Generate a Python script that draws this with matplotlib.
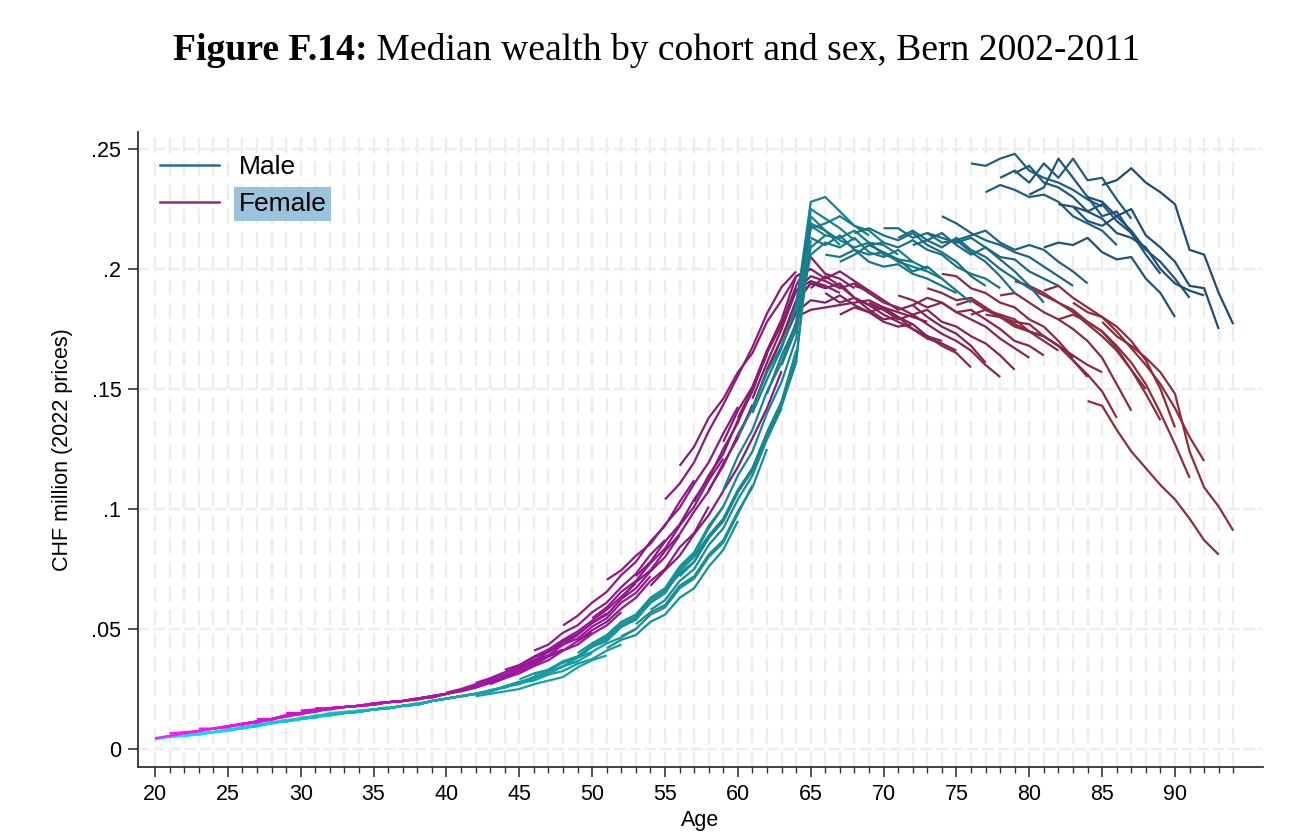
# Median wealth by cohort and sex, Bern 2002-2011
import numpy as np
import matplotlib
matplotlib.use("Agg")
import matplotlib.pyplot as plt
from matplotlib.colors import LinearSegmentedColormap
from matplotlib.lines import Line2D

plt.rcParams["font.family"] = ["Liberation Sans", "DejaVu Sans"]

# each row: one cohort, age in 2002 = start age, values for 2002..2011
# wealth in thousandths of CHF million (2022 prices)
young_start = list(range(20, 45))
mid_start = list(range(45, 65))
old_start = list(range(65, 86))

male_young = [
    [4, 5, 5.5, 6.5, 7, 8, 9, 10, 11, 12],
    [5, 5.5, 6, 7, 8, 9, 9.5, 11, 12, 12.5],
    [5.5, 6.5, 7, 8, 8.5, 9.5, 11, 12, 12.5, 13.5],
    [6, 7, 8, 8.5, 10, 11, 11.5, 12.5, 13.5, 14],
    [7, 7.5, 9, 10, 10.5, 12, 12.5, 13.5, 14.5, 15],
    [7.5, 9, 9.5, 11, 12, 12.5, 14, 14.5, 15, 16],
    [9, 9.5, 11, 11.5, 12.5, 13.5, 14, 15, 16, 16.5],
    [9.5, 11, 11.5, 13, 13.5, 15, 15.5, 16, 16.5, 17.5],
    [11, 11.5, 12.5, 13.5, 14, 15, 15.5, 16.5, 17, 18],
    [11.5, 12.5, 13, 14.5, 15, 15.5, 16.5, 17, 18, 19],
    [13, 13.5, 14.5, 15, 15.5, 16.5, 17, 18, 19, 20],
    [13.5, 14.5, 15, 15.5, 16.5, 17, 18, 18.5, 20, 21],
    [14, 15, 15.5, 16.5, 17, 18, 18.5, 20, 21, 22],
    [15, 15.5, 16.5, 17, 18, 18.5, 20, 21, 22, 23],
    [15.5, 16.5, 17, 18, 18.5, 20, 21, 22, 23, 24.5],
    [16.5, 17, 18, 18.5, 20, 21, 22, 23, 24.5, 26],
    [17, 18, 18.5, 20, 21, 22, 23, 24, 26, 28],
    [18, 18.5, 20, 21, 22, 23, 24, 26, 27.5, 30],
    [18.5, 20, 21, 22, 23, 24, 26, 27.5, 30, 31.5],
    [20, 21, 22, 23, 24, 26, 27, 29.5, 31.5, 34.5],
    [21, 22, 23, 24, 26, 27.5, 30, 31.5, 34.5, 36.5],
    [22, 23, 24, 26, 27.5, 30, 31.5, 34.5, 36.5, 40],
    [22, 23, 24, 25, 27, 28.5, 30, 34, 37, 39],
    [24.5, 25.5, 27.5, 28.5, 31, 32.5, 35.5, 37.5, 41, 43.5],
    [26, 28, 29.5, 32.5, 34.5, 38, 40.5, 44, 46.5, 50],
]
male_mid = [
    [29, 31.5, 33, 36.5, 38.5, 43, 45.5, 51, 54, 62],
    [31, 33, 36.5, 38.5, 43, 45.5, 51, 54, 61, 65],
    [33, 36, 38, 42.5, 45, 51, 54, 61, 65, 74],
    [36, 38.5, 43, 45.5, 51, 54, 61, 65, 74, 80],
    [40, 44, 46.5, 52, 55, 62, 66, 75, 81, 92],
    [44, 47.5, 53, 56, 63, 67, 76, 82, 93, 101],
    [42, 45.5, 47.5, 53, 56, 63, 67, 76, 83, 95],
    [47, 50, 56, 59, 67, 71, 80, 86, 98, 110],
    [52, 57, 60, 68, 72, 81, 87, 99, 109, 125],
    [58, 62, 70, 75, 85, 92, 104, 114, 129, 142],
    [66, 73, 78, 88, 95, 107, 117, 132, 145, 166],
    [72, 78, 88, 95, 107, 116, 131, 143, 163, 212],
    [80, 89, 96, 108, 117, 131, 143, 161, 218, 214],
    [92, 101, 114, 124, 140, 153, 171, 222, 216, 210],
    [108, 122, 133, 149, 161, 178, 225, 221, 217, 212],
    [130, 142, 157, 168, 184, 228, 230, 224, 218, 214],
    [140, 154, 167, 185, 217, 219, 222, 218, 216, 211],
    [148, 164, 177, 209, 214, 213, 216, 211, 210, 206],
    [160, 175, 206, 211, 209, 213, 207, 205, 208, 203],
    [186, 219, 216, 212, 209, 211, 206, 204, 203, 200],
]
male_old = [
    [213, 210, 214, 208, 206, 207, 203, 201, 199, 196],
    [206, 205, 208, 203, 201, 202, 198, 196, 193, 190],
    [203, 206, 210, 207, 204, 199, 201, 196, 191, 186],
    [215, 217, 214, 212, 215, 210, 207, 203, 197, 193],
    [210, 211, 209, 212, 208, 206, 201, 198, 196, 192],
    [217, 217, 213, 215, 211, 212, 207, 203, 197, 190],
    [213, 216, 212, 209, 213, 208, 205, 200, 196, 192],
    [210, 212, 215, 210, 206, 209, 204, 199, 193, 186],
    [215, 213, 211, 213, 209, 205, 204, 199, 196, 193],
    [222, 219, 215, 212, 210, 207, 205, 201, 197, 193],
    [212, 214, 216, 211, 208, 210, 208, 203, 199, 194],
    [244, 243, 246, 248, 241, 238, 236, 233, 229, 226],
    [232, 235, 233, 230, 231, 228, 222, 219, 216, 210],
    [238, 241, 236, 244, 238, 246, 237, 238, 229, 221],
    [240, 243, 236, 234, 230, 224, 227, 220, 215, 208],
    [231, 234, 246, 238, 230, 222, 224, 215, 206, 198],
    [209, 211, 210, 213, 207, 204, 205, 196, 190, 180],
    [227, 226, 220, 218, 222, 216, 208, 203, 196, 188],
    [226, 224, 221, 215, 213, 209, 200, 194, 191, 189],
    [230, 228, 222, 225, 214, 209, 203, 193, 192, 175],
    [235, 237, 242, 236, 232, 227, 208, 206, 190, 177],
]

female_young = [
    [4.5, 5.5, 6.5, 7.5, 8.5, 9.5, 10.5, 11.5, 12.5, 14],
    [6.5, 7, 7.5, 8.5, 9.5, 10, 11.5, 12.5, 13.5, 15],
    [6.5, 7.5, 8.5, 9, 10.5, 11.5, 12, 14, 15, 15.5],
    [8.5, 8.5, 9.5, 10.5, 11, 12.5, 13.5, 14.5, 16, 17],
    [8.5, 9.5, 10.5, 11.5, 12.5, 14, 14.5, 16, 16.5, 17.5],
    [9.5, 10.5, 11, 12.5, 14, 14.5, 16, 17, 17.5, 18],
    [10.5, 11.5, 12.5, 13.5, 15, 16, 16.5, 17.5, 18, 18.5],
    [12.5, 12.5, 14, 15, 15.5, 17, 17.5, 18, 19, 19.5],
    [12.5, 14, 15, 15.5, 17, 17.5, 18, 18.5, 19.5, 20],
    [15, 15, 16, 17, 17.5, 18, 18.5, 19.5, 20, 21],
    [16, 16.5, 17, 17.5, 18, 18.5, 19.5, 20, 21, 22],
    [17, 17, 17.5, 18, 19, 19.5, 20, 21, 22, 23],
    [17, 17.5, 18, 18.5, 19.5, 20, 21, 22, 23, 24.5],
    [17.5, 18, 19, 19.5, 20, 21, 22, 23, 24.5, 26.5],
    [18, 19, 19.5, 20, 21, 21.5, 23, 24.5, 26, 28.5],
    [19, 19.5, 20, 20.5, 22, 23, 24.5, 26, 28.5, 30.5],
    [19.5, 20, 21, 22, 23, 24, 26.5, 28.5, 30.5, 33],
    [20, 21, 21.5, 23, 24.5, 26.5, 28, 30.5, 33, 35.5],
    [21, 21.5, 23, 24.5, 26, 28.5, 30.5, 32.5, 36, 38.5],
    [22, 23, 24.5, 26, 28.5, 30, 33, 35.5, 39, 41.5],
    [23.5, 25, 27, 29, 31, 34, 36.5, 40.5, 43.5, 47.5],
    [24, 25.5, 27.5, 29.5, 32.5, 35, 38.5, 41, 45, 48.5],
    [27.5, 29.5, 32, 34.5, 38, 40.5, 44.5, 48, 52.5, 56.5],
    [27, 29.5, 31.5, 34.5, 37, 41, 43.5, 48, 51.5, 57],
    [33, 35, 38.5, 41.5, 45.5, 49, 53.5, 58, 63.5, 69],
]
female_mid = [
    [33.5, 37, 39, 43.5, 46, 51, 54.5, 61, 65, 72],
    [41, 43.5, 48.5, 51.5, 57, 61, 67.5, 73, 81, 87],
    [40.5, 45, 47.5, 52.5, 56, 62.5, 67, 74, 80, 89],
    [51.5, 55.5, 61, 65.5, 72.5, 78, 86.5, 93, 103, 112],
    [45, 49.5, 53, 58.5, 63, 70, 75, 84, 90, 101],
    [54.5, 59, 65.5, 70, 77.5, 83.5, 93, 101, 112, 121],
    [70.5, 74.5, 80.5, 85.5, 93.5, 100.5, 110.5, 119.5, 131.5, 142.5],
    [63, 69.5, 74.5, 82.5, 89.5, 99, 107.5, 119, 129.5, 143.5],
    [72, 78, 86.5, 93.5, 104, 113, 125, 136, 150.5, 164.5],
    [68, 74.5, 80.5, 89.5, 97.5, 107.5, 117.5, 129.5, 142, 157.5],
    [104, 110.5, 119.5, 132.5, 143.5, 155.5, 167.5, 181.5, 192.5, 199],
    [118, 126, 138, 146, 157, 165, 178, 187, 197, 200],
    [103, 114, 123, 137, 149, 165, 177, 191, 195, 193],
    [108, 118, 131, 142, 158, 171, 187, 194, 193, 190],
    [128, 141, 151, 166, 177, 193, 205, 198, 196, 192],
    [138, 150, 166, 179, 197, 200, 196, 199, 195, 191],
    [146, 161, 175, 191, 197, 195, 192, 194, 190, 186],
    [158, 171, 186, 194, 192, 194, 188, 185, 183, 180],
    [168, 182, 187, 186, 189, 185, 182, 184, 180, 177],
    [180, 183, 184, 185, 186, 187, 184, 182, 180, 178],
]
female_old = [
    [192, 197, 193, 188, 185, 181, 178, 175, 172, 170],
    [190, 186, 188, 183, 179, 180, 175, 171, 169, 166],
    [181, 184, 182, 178, 176, 177, 172, 168, 165, 159],
    [193, 191, 187, 183, 185, 180, 176, 173, 168, 161],
    [186, 183, 179, 181, 177, 173, 170, 166, 160, 155],
    [186, 184, 181, 183, 178, 176, 172, 169, 164, 158],
    [189, 187, 184, 186, 182, 179, 176, 171, 167, 163],
    [185, 188, 186, 182, 183, 179, 175, 170, 168, 164],
    [192, 190, 187, 188, 184, 180, 177, 174, 170, 166],
    [198, 197, 192, 190, 186, 184, 179, 176, 170, 163],
    [185, 187, 183, 181, 179, 174, 172, 168, 162, 155],
    [181, 183, 180, 176, 174, 172, 168, 164, 160, 157],
    [181, 180, 178, 177, 172, 168, 162, 156, 149, 138],
    [189, 190, 186, 182, 179, 175, 170, 163, 152, 141],
    [195, 193, 190, 186, 182, 177, 172, 166, 158, 150],
    [192, 189, 186, 183, 178, 174, 167, 158, 148, 137],
    [191, 193, 188, 184, 180, 176, 170, 162, 150, 134],
    [179, 181, 178, 174, 168, 161, 152, 140, 127, 113],
    [186, 182, 180, 174, 167, 160, 152, 142, 130, 120],
    [145, 143, 133, 124, 117, 110, 104, 96, 87, 81],
    [178, 172, 168, 163, 157, 148, 124, 109, 101, 91],
]

x_ticks = list(range(20, 91, 5))
y_ticks = [0, 0.05, 0.1, 0.15, 0.2, 0.25]
y_labels = ["0", ".05", ".1", ".15", ".2", ".25"]

male_cmap = LinearSegmentedColormap.from_list(
    "male", ["#0ae6ee", "#12b4b6", "#15999c", "#17848d", "#1d6b82", "#1f4b77"])
female_cmap = LinearSegmentedColormap.from_list(
    "female", ["#ff14ff", "#c412c4", "#9c169e", "#8a1a80", "#84205f", "#8a2a45", "#8e2e3a"])

starts = young_start + mid_start + old_start
male_rows = male_young + male_mid + male_old
female_rows = female_young + female_mid + female_old

fig = plt.figure(figsize=(13.13, 8.36), dpi=100)
ax = fig.add_axes([138 / 1313, 69 / 836, 1125 / 1313, 635 / 836])


def draw(rows, cmap, lo, hi):
    for a0, vals in zip(starts, rows):
        if lo <= a0 < hi:
            ages = np.arange(a0, a0 + len(vals))
            ax.plot(ages, np.array(vals) / 1000, color=cmap((a0 - 20) / 65),
                    lw=1.6, solid_capstyle="butt", zorder=3)


draw(male_rows, male_cmap, 0, 55)
draw(female_rows, female_cmap, 0, 55)
draw(female_rows, female_cmap, 55, 100)
draw(male_rows, male_cmap, 55, 100)

ax.set_xlim(18.83, 96.04)
ax.set_ylim(-0.0075, 0.2571)
ax.set_xticks(x_ticks)
ax.set_xticks(range(20, 95), minor=True)
ax.set_yticks(y_ticks)
ax.set_yticklabels(y_labels)

ax.grid(axis="x", which="both", color="#ededed", lw=1.7, ls=(0, (6.5, 3.5)), zorder=0)
ax.grid(axis="y", which="major", color="#ededed", lw=1.7, ls=(0, (5, 1.5)), zorder=0)
ax.set_axisbelow(True)

for s in ["top", "right"]:
    ax.spines[s].set_visible(False)
for s in ["left", "bottom"]:
    ax.spines[s].set_color("#333333")
    ax.spines[s].set_linewidth(1.3)
ax.tick_params(which="major", length=7, width=1.2, color="#333333", labelsize=15.5, pad=5)
ax.tick_params(which="minor", length=4, width=1.0, color="#333333")

ax.set_xlabel("Age", fontsize=15.5, labelpad=4)
ax.set_ylabel("CHF million (2022 prices)", fontsize=15.5, labelpad=13)

handles = [Line2D([], [], color="#2b6e86", lw=1.8), Line2D([], [], color="#8e2c80", lw=1.8)]
leg = ax.legend(handles, ["Male", "Female"], loc="upper left", bbox_to_anchor=(0.0196, 0.963),
                frameon=False, fontsize=19, handlelength=2.25, handletextpad=0.72,
                labelspacing=0.48, borderaxespad=0, borderpad=0)
leg.get_texts()[1].set_bbox(dict(boxstyle="square,pad=0.18", facecolor="#9cc3dd", edgecolor="none"))

# title: bold prefix + regular text, centred, fitted to the reference width
renderer = fig.canvas.get_renderer()
t1 = fig.text(0, 0.928, "Figure F.14:", fontsize=24, fontweight="bold", family="Liberation Serif")
t2 = fig.text(0, 0.928, " Median wealth by cohort and sex, Bern 2002-2011", fontsize=24,
              family="Liberation Serif")
w = t1.get_window_extent(renderer).width + t2.get_window_extent(renderer).width
size = 24 * 968 / w
t1.set_fontsize(size)
t2.set_fontsize(size)
w1 = t1.get_window_extent(renderer).width
w2 = t2.get_window_extent(renderer).width
x0 = (1313 - (w1 + w2)) / 2
t1.set_x(x0 / 1313)
t2.set_x((x0 + w1) / 1313)

fig.savefig("out.png", dpi=100)
